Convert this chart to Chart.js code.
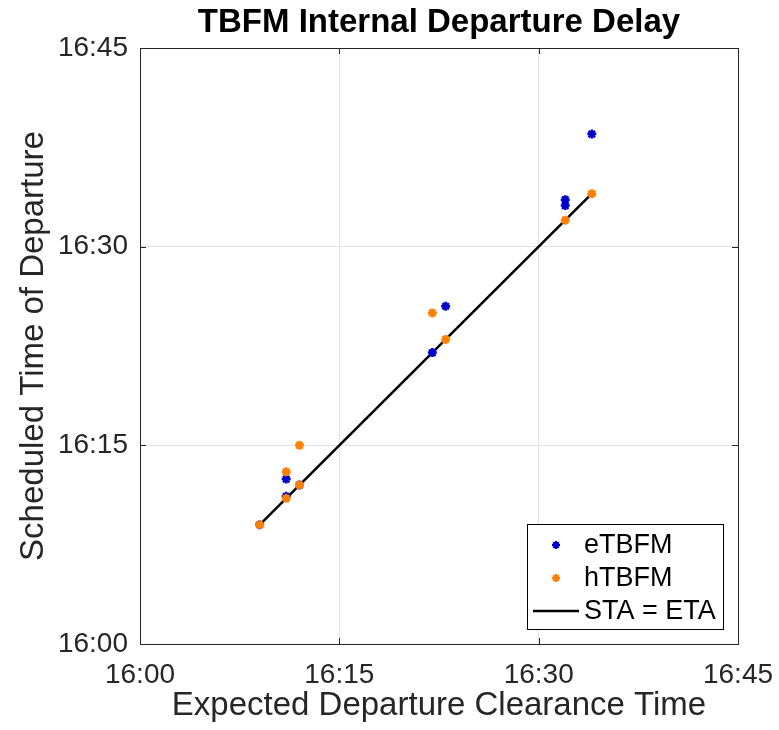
<!DOCTYPE html>
<html>
<head>
<meta charset="utf-8">
<script src="https://cdn.jsdelivr.net/npm/chart.js@4"></script>
<style>
html,body{margin:0;padding:0;background:#fff;}
#wrap{width:779px;height:730px;position:relative;}
</style>
</head>
<body>
<div id="wrap"><canvas id="c" width="779" height="730"></canvas></div>
<script>
// Minutes after 16:00
const eTBFM_x = [9, 11, 11, 12, 22, 23, 32, 32, 34];
const eTBFM_y = [9, 11.15, 12.45, 12, 22, 25.5, 33.1, 33.55, 38.5];
const hTBFM_x = [9, 11, 11, 12, 12, 22, 23, 32, 34];
const hTBFM_y = [9, 11, 13, 12, 15, 25, 23, 32, 34];
const line_x = [9, 34];
const line_y = [9, 34];
const tickValues = [0, 15, 30, 45];
const seriesNames = ['eTBFM', 'hTBFM', 'STA = ETA'];
const titleText = 'TBFM Internal Departure Delay';
const xTitle = 'Expected Departure Clearance Time';
const yTitle = 'Scheduled Time of Departure';

const FONT = 'Helvetica, "Liberation Sans", Arial, sans-serif';
const BLUE = '#0000CC';
const ORANGE = '#FF8000';
const AXC = '#262626';

function fmt(v){ const m = Math.round(v); return '16:' + (m < 10 ? '0' + m : m); }
function pts(xs, ys){ return xs.map((x,i)=>({x:x, y:ys[i]})); }

const framePlugin = {
  id: 'frame',
  afterDraw(chart){
    const ctx = chart.ctx, a = chart.chartArea;
    const xs = chart.scales.x, ys = chart.scales.y;
    ctx.save();
    ctx.strokeStyle = AXC; ctx.lineWidth = 1;
    ctx.strokeRect(Math.round(a.left)+0.5, Math.round(a.top)+0.5, Math.round(a.right-a.left), Math.round(a.bottom-a.top));
    const tl = 6;
    ctx.beginPath();
    tickValues.forEach(v=>{
      const px = Math.round(xs.getPixelForValue(v))+0.5;
      ctx.moveTo(px, a.bottom); ctx.lineTo(px, a.bottom - tl);
      ctx.moveTo(px, a.top); ctx.lineTo(px, a.top + tl);
      const py = Math.round(ys.getPixelForValue(v))+0.5;
      ctx.moveTo(a.left, py); ctx.lineTo(a.left + tl, py);
      ctx.moveTo(a.right, py); ctx.lineTo(a.right - tl, py);
    });
    ctx.stroke();
    ctx.fillStyle = '#000';
    ctx.font = 'bold 33px ' + FONT;
    ctx.textAlign = 'center'; ctx.textBaseline = 'alphabetic';
    ctx.fillText(titleText, (a.left + a.right)/2, 32);
    const L = 527, T = 524, R = 723, B = 629;
    ctx.fillStyle = '#fff';
    ctx.fillRect(L, T, R-L, B-T);
    ctx.strokeStyle = '#000'; ctx.lineWidth = 1;
    ctx.strokeRect(L+0.5, T+0.5, R-L, B-T);
    const rows = [545, 578, 611];
    ctx.font = '27px ' + FONT;
    ctx.textAlign = 'left'; ctx.textBaseline = 'middle';
    chart.data.datasets.forEach((ds, i)=>{
      const y = rows[i];
      if (i < 2) {
        ctx.save();
        ctx.strokeStyle = ds.borderColor; ctx.fillStyle = ds.backgroundColor; ctx.lineWidth = 2.2;
        Chart.helpers.drawPoint(ctx, {pointStyle: ds.pointStyle, radius: 4, borderWidth: 2.2, rotation: 0}, 556, y);
        ctx.restore();
      } else {
        ctx.beginPath(); ctx.strokeStyle = '#000'; ctx.lineWidth = 2.5;
        ctx.moveTo(533, y); ctx.lineTo(579, y); ctx.stroke();
      }
      ctx.fillStyle = '#000';
      ctx.fillText(seriesNames[i], 584, y + 1);
    });
    ctx.restore();
  }
};

new Chart(document.getElementById('c'), {
  type: 'scatter',
  data: {
    datasets: [
      {label: seriesNames[0], data: pts(eTBFM_x, eTBFM_y), pointStyle: 'star', pointRadius: 4.5, borderWidth: 2.5, borderColor: BLUE, backgroundColor: BLUE, order: 2},
      {label: seriesNames[1], data: pts(hTBFM_x, hTBFM_y), pointStyle: 'star', pointRadius: 4.5, borderWidth: 2.5, borderColor: ORANGE, backgroundColor: ORANGE, order: 1},
      {label: seriesNames[2], type: 'line', data: pts(line_x, line_y), showLine: true, borderColor: '#000', backgroundColor: '#000', borderWidth: 2.5, pointRadius: 0, fill: false, order: 3}
    ]
  },
  options: {
    responsive: false,
    animation: false,
    layout: {padding: {top: 48, right: 41, left: 0, bottom: 0}},
    plugins: {legend: {display: false}, title: {display: false}, tooltip: {enabled: false}},
    scales: {
      x: {
        type: 'linear', min: 0, max: 45,
        afterFit(s){ s.height = 86; s.paddingLeft = 0; s.paddingRight = 0; },
        afterBuildTicks(s){ s.ticks = tickValues.map(v=>({value: v})); },
        ticks: {callback: fmt, color: AXC, font: {family: FONT, size: 28}, padding: 14, maxRotation: 0},
        grid: {color: '#e3e3e3', drawTicks: false, lineWidth: 1},
        border: {display: false},
        title: {display: true, text: xTitle, color: AXC, font: {family: FONT, size: 33}, padding: {top: 0, bottom: 4}}
      },
      y: {
        type: 'linear', min: 0, max: 45,
        afterFit(s){ s.width = 140; s.paddingTop = 0; s.paddingBottom = 0; },
        afterBuildTicks(s){ s.ticks = tickValues.map(v=>({value: v})); },
        ticks: {callback: fmt, color: AXC, font: {family: FONT, size: 28}, padding: 12},
        grid: {color: '#e3e3e3', drawTicks: false, lineWidth: 1},
        border: {display: false},
        title: {display: true, text: yTitle, color: AXC, font: {family: FONT, size: 33}, padding: {top: 14, bottom: 0}}
      }
    }
  },
  plugins: [framePlugin]
});
</script>
</body>
</html>
